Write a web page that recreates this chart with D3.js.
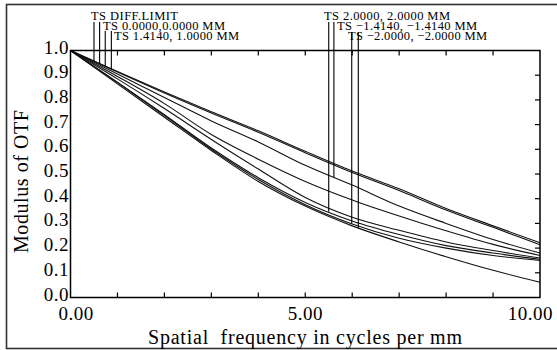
<!DOCTYPE html>
<html><head><meta charset="utf-8">
<script src="https://cdn.jsdelivr.net/npm/d3@7"></script>
<style>html,body{margin:0;padding:0;background:#fff;} svg{display:block;}</style>
</head><body>
<svg id="chart" width="557" height="350"></svg>
<script>
// ---- data ----
const frequency = [0, 1, 2, 3, 4, 5, 6, 7, 8, 9, 10];
const curveA = [1, 0.915, 0.832, 0.752, 0.675, 0.592, 0.512, 0.440, 0.360, 0.290, 0.222];
const curveB = [1, 0.913, 0.828, 0.747, 0.669, 0.586, 0.506, 0.433, 0.354, 0.284, 0.214];
const curveC = [1, 0.905, 0.810, 0.715, 0.630, 0.535, 0.455, 0.370, 0.300, 0.235, 0.180];
const curveD = [1, 0.895, 0.785, 0.660, 0.560, 0.470, 0.395, 0.330, 0.270, 0.215, 0.170];
const curveE = [1, 0.885, 0.765, 0.640, 0.520, 0.405, 0.325, 0.272, 0.225, 0.190, 0.160];
const curveF = [1, 0.872, 0.740, 0.605, 0.485, 0.385, 0.310, 0.255, 0.210, 0.180, 0.155];
const curveG = [1, 0.870, 0.737, 0.600, 0.478, 0.376, 0.298, 0.240, 0.200, 0.170, 0.150];
const curveH = [1, 0.865, 0.730, 0.595, 0.470, 0.370, 0.290, 0.225, 0.165, 0.110, 0.062];
const allCurves = [curveA, curveB, curveC, curveD, curveE, curveF, curveG, curveH];

const xTickLabels = ["0.00", "5.00", "10.00"];
const xTickLabelValues = [0, 5, 10];
const yTickValues = [0, 0.1, 0.2, 0.3, 0.4, 0.5, 0.6, 0.7, 0.8, 0.9, 1.0];
const minorXTicks = [1, 2, 3, 4, 5, 6, 7, 8, 9];

const legendLabels = ["TS DIFF.LIMIT", "TS 0.0000,0.0000 MM", "TS 1.4140, 1.0000 MM",
  "TS 2.0000, 2.0000 MM", "TS \u22121.4140, \u22121.4140 MM", "TS \u22122.0000, \u22122.0000 MM"];
const pointerFrequency = [0.50, 0.62, 0.74, 0.87, 5.50, 5.61, 5.99, 6.13];
const pointerCurve = [0, 1, 0, 1, 5, 2, 6, 7];

// ---- layout ----
const svg = d3.select("#chart");
const P = {left: 70.5, right: 540, top: 50.5, bottom: 297.5};
const x = d3.scaleLinear().domain([0, 10]).range([P.left, P.right]);
const y = d3.scaleLinear().domain([0, 1]).range([P.bottom, P.top]);
const serif = "'Liberation Serif', 'Times New Roman', serif";

// outer border
svg.append("rect").attr("x", 6.5).attr("y", 4.5).attr("width", 560).attr("height", 344)
  .attr("fill", "none").attr("stroke", "#333").attr("stroke-width", 1.6);

// curves
const line = d3.line().x((d, i) => x(frequency[i])).y(d => y(d)).curve(d3.curveMonotoneX);
svg.append("g").selectAll("path").data(allCurves).join("path")
  .attr("d", line).attr("fill", "none").attr("stroke", "#111").attr("stroke-width", 1.1);

// plot frame
svg.append("rect").attr("x", P.left).attr("y", P.top)
  .attr("width", P.right - P.left).attr("height", P.bottom - P.top)
  .attr("fill", "none").attr("stroke", "#000").attr("stroke-width", 1.5);

// ticks
const tl = 5;
const tg = svg.append("g").attr("stroke", "#000").attr("stroke-width", 1.2);
tg.selectAll(".bt").data(minorXTicks).join("line")
  .attr("x1", d => x(d)).attr("x2", d => x(d)).attr("y1", P.bottom).attr("y2", P.bottom - tl);
tg.selectAll(".tt").data(minorXTicks).join("line")
  .attr("x1", d => x(d)).attr("x2", d => x(d)).attr("y1", P.top).attr("y2", P.top + tl);
tg.selectAll(".rt").data(yTickValues.slice(1, -1)).join("line")
  .attr("x1", P.right).attr("x2", P.right - tl).attr("y1", d => y(d)).attr("y2", d => y(d));

// y tick labels
svg.append("g").selectAll("text").data(yTickValues).join("text")
  .attr("x", 69).attr("y", d => y(d) + 3)
  .attr("text-anchor", "end").attr("font-family", serif).attr("font-size", 19)
  .attr("letter-spacing", 0.5)
  .text(d => d.toFixed(1));

// x tick labels
const anchors = ["start", "middle", "end"];
const offs = [-12, 0, 13];
svg.append("g").selectAll("text").data(xTickLabels).join("text")
  .attr("x", (d, i) => x(xTickLabelValues[i]) + offs[i]).attr("y", 320)
  .attr("text-anchor", (d, i) => anchors[i]).attr("font-family", serif).attr("font-size", 19)
  .attr("letter-spacing", 0.5)
  .text(d => d);

// axis titles
svg.append("text").attr("x", 148).attr("y", 344)
  .attr("font-family", serif).attr("font-size", 20)
  .attr("textLength", 314).attr("xml:space", "preserve")
  .text("Spatial  frequency in cycles per mm");
svg.append("text").attr("transform", "translate(28,253) rotate(-90)")
  .attr("font-family", serif).attr("font-size", 20).attr("textLength", 143)
  .text("Modulus of OTF");

// legend labels and pointer lines
const labelX = [91, 103, 114, 324, 337, 348];
const labelY = [20, 30, 40, 20, 30, 40];
const labelW = [87, 122, 125, 126, 140, 139];
svg.append("g").selectAll("text").data(legendLabels).join("text")
  .attr("x", (d, i) => labelX[i]).attr("y", (d, i) => labelY[i])
  .attr("font-family", serif).attr("font-size", 12.5)
  .attr("textLength", (d, i) => labelW[i])
  .text(d => d);

const pointerTop = [22, 22, 31, 31, 22, 22, 32, 32];
function valueAt(curve, f) {
  return d3.scaleLinear().domain(frequency).range(curve)(f);
}
svg.append("g").selectAll("line").data(pointerFrequency).join("line")
  .attr("x1", d => x(d)).attr("x2", d => x(d))
  .attr("y1", (d, i) => pointerTop[i])
  .attr("y2", (d, i) => y(valueAt(allCurves[pointerCurve[i]], d)))
  .attr("stroke", "#000").attr("stroke-width", 1.1);
</script>
</body></html>
